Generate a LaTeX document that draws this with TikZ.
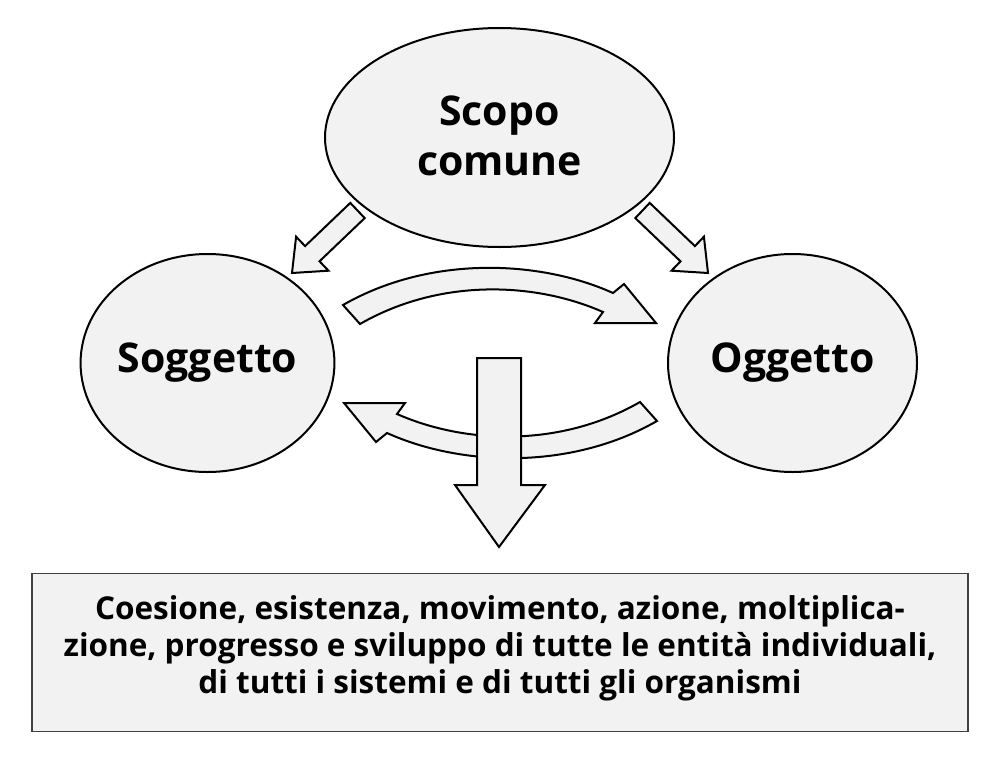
\documentclass[tikz,border=0pt]{standalone}
\usepackage{fontspec}
\setmainfont{Open Sans}
\usetikzlibrary{shapes.geometric}
\definecolor{pale}{HTML}{F2F2F2}
\definecolor{rim}{HTML}{404040}
\begin{document}
\begin{tikzpicture}[x=1pt,y=-1pt,
  blob/.style={draw=black,line width=2pt,fill=pale,ellipse,inner sep=0pt,align=center,
    font=\fontsize{41}{50}\selectfont\bfseries},
  fat/.style={draw=black,line width=2pt,fill=pale,line join=miter}]
\useasboundingbox (0,0) rectangle (1000,760);
\node [blob,minimum width=349pt,minimum height=219pt,text depth=3pt] (scopo) at (499.5,137.5) {Scopo\\comune};
\node [blob,minimum width=249pt,minimum height=218pt] (soggetto) at (207.5,363) {Soggetto};
\node [blob,minimum width=249pt,minimum height=218pt] (oggetto) at (792.5,363) {Oggetto};
\draw [fat] (364.7,218.1) -- (319.5,261.3) -- (328.5,270.7) -- (292,273) -- (296.1,236.7) -- (305.1,246.1) -- (350.3,202.9) -- cycle;
\draw [fat] (635.3,218.1) -- (680.5,261.3) -- (671.5,270.7) -- (708,273) -- (703.9,236.7) -- (694.9,246.1) -- (649.7,202.9) -- cycle;
\draw [fat] (343,305) .. controls (430,255) and (540,260) .. (613,293) -- (624,284) -- (656,323) -- (595,323) -- (603,312) .. controls (535,282) and (440,278) .. (360,324) -- cycle;
\draw [fat] (657,421) .. controls (570,471) and (460,466) .. (387,433) -- (376,442) -- (344,403) -- (405,403) -- (397,414) .. controls (465,444) and (560,448) .. (640,402) -- cycle;
\draw [fat] (477,358) -- (521,358) -- (521,485) -- (545,485) -- (499,547) -- (455,485) -- (477,485) -- cycle;
\node [draw=rim,line width=1.5pt,fill=pale,minimum width=936pt,minimum height=158pt,inner sep=0pt,align=center,
  text depth=16pt,font=\fontsize{31.5}{37}\selectfont\bfseries] (esito) at (500,652.5)
  {Coesione, esistenza, movimento, azione, moltiplica-\\zione, progresso e sviluppo di tutte le entità individuali,\\di tutti i sistemi e di tutti gli organismi};
\end{tikzpicture}
\end{document}
